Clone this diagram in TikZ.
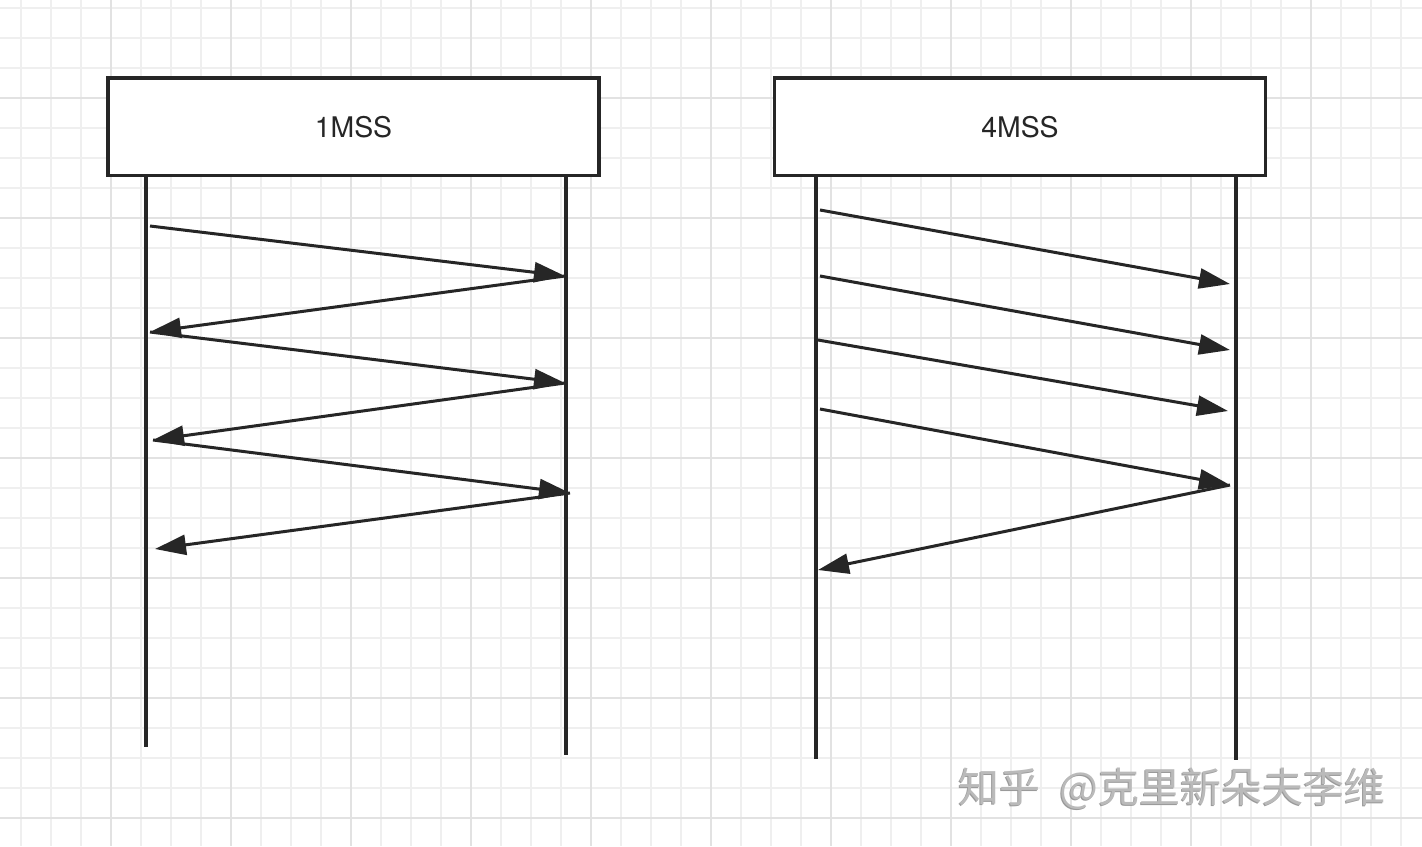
\documentclass[tikz,border=0pt]{standalone}
\usepackage{fontspec}
\setmainfont{TeX Gyre Heros}
\newfontfamily\cjk{Noto Sans CJK SC}
\usepackage{tikz}
\usetikzlibrary{calc,positioning,arrows.meta}
\definecolor{gridminor}{HTML}{EFEFEF}
\definecolor{gridmajor}{HTML}{E2E2E2}
\definecolor{ink}{HTML}{262626}
\definecolor{wmgray}{HTML}{BABABA}
\definecolor{wmshade}{HTML}{999999}

\begin{document}
\begin{tikzpicture}[x=0.5pt, y=-0.5pt]
\tikzstyle{header}=[draw=ink, line width=1.6pt, fill=white, inner sep=0pt,
                    minimum width=245.5pt, minimum height=48.75pt,
                    text=ink, font=\fontsize{14.2}{16}\selectfont]
\tikzstyle{life}=[draw=ink, line width=1.6pt]
\tikzstyle{msg}=[draw=ink, line width=1.5pt,
                 -{Triangle[length=15.5pt, width=10pt]}]
\useasboundingbox (0,0) rectangle (1422,846);
\fill[white] (0,0) rectangle (1422,846);
\foreach \x in {0,...,46} \draw[gridminor, line width=1pt] (20.7+30*\x,0) -- (20.7+30*\x,846);
\foreach \y in {0,...,27} \draw[gridminor, line width=1pt] (0,8.3+30*\y) -- (1422,8.3+30*\y);
\foreach \x in {0,...,10} \draw[gridmajor, line width=1pt] (110.7+120*\x,0) -- (110.7+120*\x,846);
\foreach \y in {0,...,6} \draw[gridmajor, line width=1pt] (0,98.3+120*\y) -- (1422,98.3+120*\y);
\node[header] (A) at (353.5,126.75) {1MSS};
\node[header] (B) at (1020,126.75) {4MSS};
\coordinate (A1) at (146,747);
\coordinate (A2) at (566,755);
\coordinate (B1) at (816,759);
\coordinate (B2) at (1236,760);
\draw[life] (A1 |- A.south) -- (A1);
\draw[life] (A2 |- A.south) -- (A2);
\draw[life] (B1 |- B.south) -- (B1);
\draw[life] (B2 |- B.south) -- (B2);
\coordinate (p1) at (150,226);
\coordinate (q1) at (565,276);
\coordinate (p2) at (150,332);
\coordinate (q2) at (565,383);
\coordinate (p3) at (153,440);
\coordinate (q3) at (570,493);
\coordinate (p4) at (155,549);
\draw[msg] (p1) -- (q1);
\draw[msg] (q1) -- (p2);
\draw[msg] (p2) -- (q2);
\draw[msg] (q2) -- (p3);
\draw[msg] (p3) -- (q3);
\draw[msg] (q3) -- (p4);
\coordinate (r1) at (820,210);
\coordinate (s1) at (1230,284);
\coordinate (r2) at (820,276);
\coordinate (s2) at (1230,350);
\coordinate (r3) at (818,340);
\coordinate (s3) at (1228,411);
\coordinate (r4) at (820,409);
\coordinate (s4) at (1230,485);
\coordinate (r5) at (818,570);
\draw[msg] (r1) -- (s1);
\draw[msg] (r2) -- (s2);
\draw[msg] (r3) -- (s3);
\draw[msg] (r4) -- (s4);
\draw[msg] (s4) -- (r5);
\node[text=wmshade, font=\cjk\fontsize{20.5}{22}\selectfont, inner sep=0pt] (W1) at (1171,790) {知乎\hspace{0.45em}@克里新朵夫李维};
\node[text=wmgray, font=\cjk\fontsize{20.5}{22}\selectfont, inner sep=0pt] (W) at (1172,789) {知乎\hspace{0.45em}@克里新朵夫李维};
\end{tikzpicture}
\end{document}
